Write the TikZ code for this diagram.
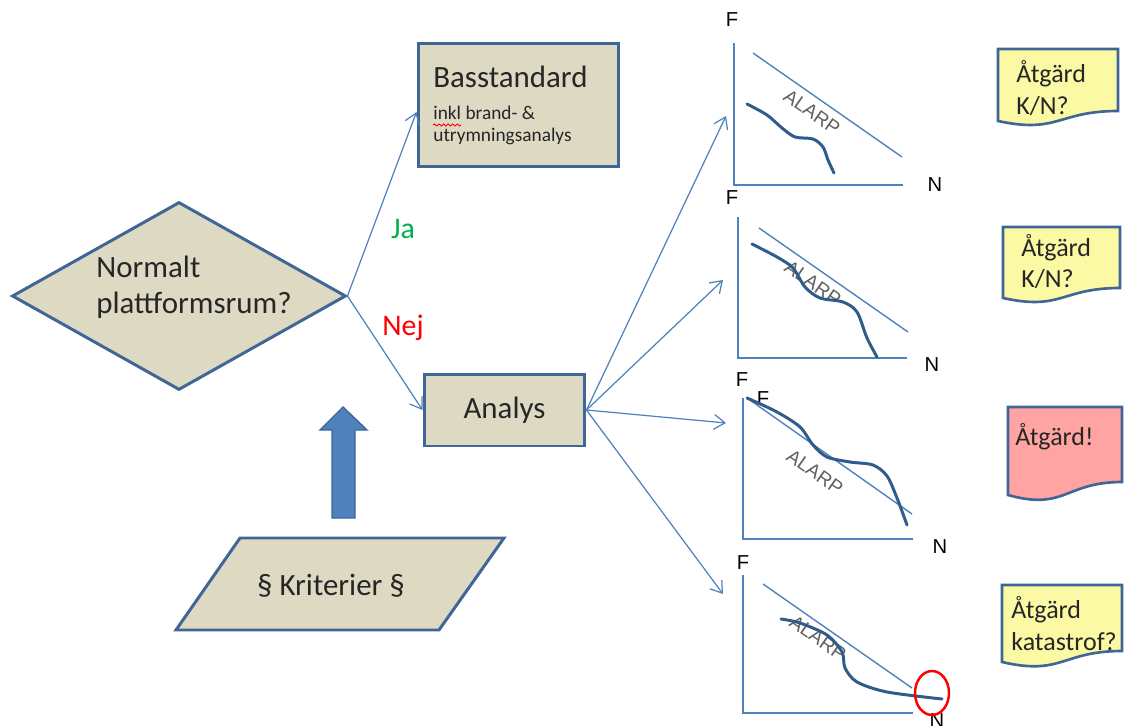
\documentclass[tikz,border=0pt]{standalone}
\usepackage{fontspec}
\setmainfont{Carlito}
\newfontfamily\arialfont{Liberation Sans}
\usetikzlibrary{positioning, arrows.meta, calc, shapes.geometric, decorations.pathmorphing}
\definecolor{beige}{HTML}{DDD9C3}
\definecolor{kant}{HTML}{3F6696}
\definecolor{linje}{HTML}{4F81BD}
\definecolor{kurva}{HTML}{2F5B8D}
\definecolor{gul}{HTML}{FBF9A3}
\definecolor{rosa}{HTML}{FFA3A3}
\definecolor{gron}{HTML}{00B050}
\definecolor{gra}{HTML}{606060}
\definecolor{text}{HTML}{262626}

\begin{document}
\begin{tikzpicture}[x=0.02cm, y=-0.02cm,
				ruta/.style={draw=kant, fill=beige, line width=1.7pt},
				stor/.style={font=\fontsize{17.6}{21}\selectfont, text=text, inner sep=0pt},
				liten/.style={font=\fontsize{11}{13}\selectfont, text=text, inner sep=0pt, anchor=base west},
				lapptext/.style={font=\fontsize{14.8}{18}\selectfont, text=text, inner sep=0pt, anchor=base west},
				lapp/.style={draw=kant, line width=1.5pt},
				pil/.style={draw=linje, line width=0.7pt, -{Straight Barb[length=2.2mm, width=3mm]}},
				axel/.style={linje, line width=1.1pt},
				alarp/.style={linje, line width=0.8pt},
				kurv/.style={kurva, line width=1.7pt, line cap=round},
				etikett/.style={font=\arialfont\fontsize{11.5}{13}\selectfont, inner sep=0pt},
				alarptext/.style={font=\arialfont\fontsize{11}{13}\selectfont, text=gra, rotate=-35, inner sep=0pt}]
				\useasboundingbox (0,0) rectangle (1133,726);

				% fraga och rutor
				\node[diamond, ruta, minimum width=6.68cm, minimum height=3.76cm, inner sep=0pt] (fraga) at (179,296) {};
				\node[stor, anchor=base west] (fragatxt1) at (96,278) {Normalt};
				\node[stor, anchor=base west] (fragatxt2) at (96,314) {plattformsrum?};
				\node[ruta, rectangle, minimum width=4.02cm, minimum height=2.48cm] (bas) at (518.5,105) {};
				\node[stor, anchor=base west] (bastitel) at (433,88) {Basstandard};
				\node[liten] (basrad1) at (433,120) {inkl brand- \&};
				\node[liten] (basrad2) at (433,142) {utrymningsanalys};
				\draw[red, line width=0.5pt, decorate, decoration={snake, amplitude=0.6pt, segment length=2.6pt}] (433,125) -- (461,125);
				\node[ruta, rectangle, minimum width=3.22cm, minimum height=1.44cm, stor] (analys) at (504.5,410) {Analys};
				\draw[ruta] (176,630) -- (439,630) -- (504,538) -- (240,538) -- cycle;
				\node[stor] (krit) at (331,586) {\S{} Kriterier \S};
				\draw[fill=linje, draw=kant, line width=0.8pt] (332,518) -- (332,430) -- (320,430) -- (343,407) -- (367,430) -- (355,430) -- (355,518) -- cycle;

				% pilar
				\draw[pil] (fraga.east) -- ($(bas.west)+(0,7)$);
				\draw[pil] (fraga.east) -- (analys.west);
				\node[stor, text=gron, font=\fontsize{17}{20}\selectfont] (ja) at (403,229) {Ja};
				\node[stor, text=red, font=\fontsize{17}{20}\selectfont] (nej) at (403,328) {Nej};
				\coordinate (m1) at (726,116);
				\coordinate (m2) at (723,280);
				\coordinate (m3) at (726,423);
				\coordinate (m4) at (723,594);
				\foreach \m in {m1,m2,m3,m4}
					\draw[pil] (analys.east) -- (\m);

				% diagram 1
				\draw[axel] (734,43) -- (734,185) -- (903,185);
				\node[etikett] (F1) at (732,20) {F};
				\node[etikett] (N1) at (935,185) {N};
				\draw[alarp] (753,53) -- (902,157);
				\node[alarptext] (alarp1) at (812,112) {ALARP};
				\draw[kurv] plot[smooth] coordinates {(747,104) (767,115) (782,128) (795,137) (813,139) (823,147) (828,160) (834,173)};

				% diagram 2
				\draw[axel] (738,217) -- (738,358) -- (907,358);
				\node[etikett] (F2) at (732,198) {F};
				\node[etikett] (N2) at (932,365) {N};
				\draw[alarp] (759,228) -- (908,332);
				\node[alarptext] (alarp2) at (813,283) {ALARP};
				\draw[kurv] plot[smooth] coordinates {(752,244) (777,257) (793,268) (805,287) (820,298) (843,302) (857,312) (867,338) (877,357)};

				% diagram 3
				\draw[axel] (743,398) -- (743,539) -- (913,539);
				\node[etikett] (F3) at (742,380) {F};
				\node[etikett] (F3b) at (763,399) {F};
				\node[etikett] (N3) at (940,547) {N};
				\draw[alarp] (747,398) -- (912,514);
				\node[alarptext] (alarp3) at (815,472) {ALARP};
				\draw[kurv] plot[smooth] coordinates {(747,398) (777,412) (800,427) (813,445) (827,457) (850,462) (873,465) (887,476) (897,498) (907,525)};

				% diagram 4
				\draw[axel] (743,575) -- (743,713) -- (913,713);
				\node[etikett] (F4) at (743,563) {F};
				\node[etikett] (N4) at (937,721) {N};
				\draw[alarp] (763,584) -- (912,688);
				\node[alarptext] (alarp4) at (818,638) {ALARP};
				\draw[kurv] plot[smooth] coordinates {(781,619) (800,623) (827,635) (842,652) (845,668) (857,682) (887,692) (942,699)};
				\draw[red, line width=1.4pt] (932,693) ellipse [x radius=17, y radius=22];

				% lappar
				\draw[lapp, fill=gul, shift={(998,49)}] (0,0) -- (120,0) -- (120,62) .. controls (60,62) and (60,85) .. (0,72) -- cycle;
				\node[lapptext] (lapp1a) at (1016,83) {Åtgärd};
				\node[lapptext] (lapp1b) at (1016,115) {K/N?};
				\draw[lapp, fill=gul, shift={(1003,227)}] (0,0) -- (117,0) -- (117,61) .. controls (58.5,61) and (58.5,84) .. (0,71) -- cycle;
				\node[lapptext] (lapp2a) at (1021,257) {Åtgärd};
				\node[lapptext] (lapp2b) at (1021,288) {K/N?};
				\draw[lapp, fill=rosa, shift={(1008,407)}] (0,0) -- (114,0) -- (114,75) .. controls (57,75) and (57,104) .. (0,88) -- cycle;
				\node[lapptext] (lapp3a) at (1015,445) {Åtgärd!};
				\draw[lapp, fill=gul, shift={(1002,585)}] (0,0) -- (120,0) -- (120,66) .. controls (60,66) and (60,91) .. (0,77) -- cycle;
				\node[lapptext] (lapp4a) at (1011,618) {Åtgärd};
				\node[lapptext] (lapp4b) at (1011,650) {katastrof?};
			\end{tikzpicture}
\end{document}
